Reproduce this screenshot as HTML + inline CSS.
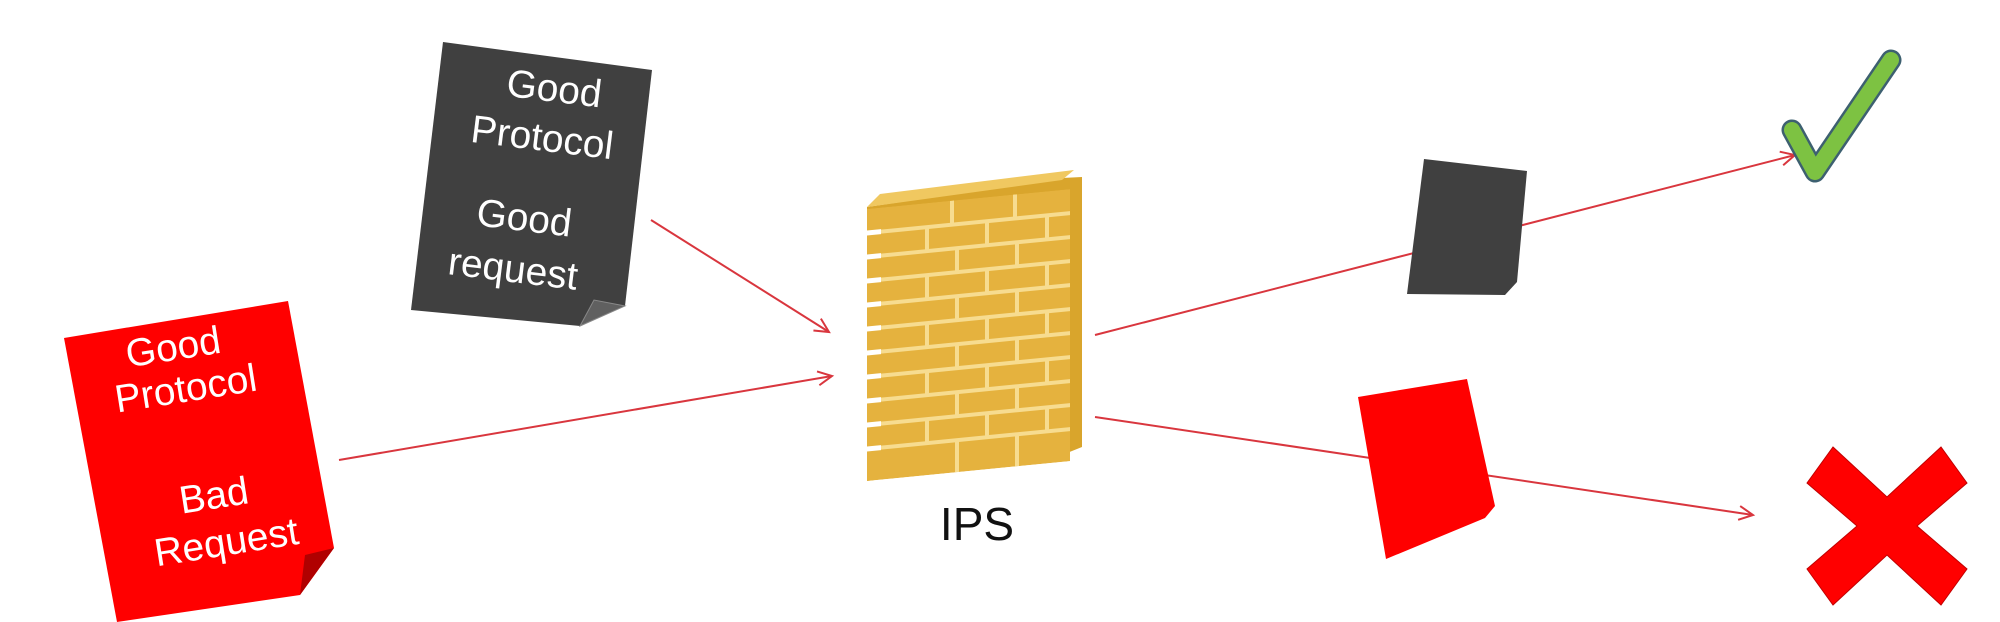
<!DOCTYPE html>
<html><head><meta charset="utf-8"><style>
html,body{margin:0;padding:0;background:#fff;}
svg{display:block}
text{font-family:"Liberation Sans",sans-serif;}
</style></head><body>
<svg width="2000" height="622" viewBox="0 0 2000 622" xmlns="http://www.w3.org/2000/svg">
<defs>
<marker id="ah" markerWidth="20" markerHeight="20" refX="16" refY="8" orient="auto" markerUnits="userSpaceOnUse">
<path d="M2,1 L16,8 L2,15" fill="none" stroke="#d9363e" stroke-width="2"/>
</marker>
<clipPath id="fc"><rect x="0" y="0" width="203" height="272"/></clipPath>
</defs>

<line x1="651" y1="220" x2="829" y2="332" stroke="#d9363e" stroke-width="2" marker-end="url(#ah)"/>
<line x1="339" y1="460" x2="832" y2="376" stroke="#d9363e" stroke-width="2" marker-end="url(#ah)"/>
<line x1="1095" y1="335" x2="1795" y2="155" stroke="#d9363e" stroke-width="2" marker-end="url(#ah)"/>
<line x1="1095" y1="417" x2="1753" y2="515" stroke="#d9363e" stroke-width="2" marker-end="url(#ah)"/>

<polygon points="443,42 652,70 625,306 580,326 411,310" fill="#404040"/>
<polygon points="580,326 625,306 594,300" fill="#606060" stroke="#888" stroke-width="1"/>
<g fill="#fff" font-size="39" text-anchor="middle" transform="rotate(7 535 180)">
<text x="543" y="100">Good</text>
<text x="537" y="150">Protocol</text>
<text x="529" y="232">Good</text>
<text x="524" y="284">request</text>
</g>

<polygon points="64,338 288,301 334,548 300,595 117,622" fill="#ff0000"/>
<polygon points="300,595 334,548 305,555" fill="#b00000"/>
<g fill="#fff" font-size="39" text-anchor="middle" transform="rotate(-9 200 440)">
<text x="188" y="357">Good</text>
<text x="194" y="400">Protocol</text>
<text x="205" y="510">Bad</text>
<text x="210" y="558">Request</text>
</g>

<polygon points="867,207 1062,178 1082,177 1082,447 1062,455 867,481" fill="#d9a52c"/>
<polygon points="867,207 880,194 1074,170 1062,180" fill="#f0c860"/>
<g transform="translate(867,209) skewY(-5.6)">
<g clip-path="url(#fc)">
<rect x="0" y="0" width="203" height="272" fill="#e5b23e"/>
<g stroke="#f7dc90" stroke-width="4">
<line x1="0" y1="24" x2="203" y2="24"/><line x1="0" y1="48" x2="203" y2="48"/>
<line x1="0" y1="72" x2="203" y2="72"/><line x1="0" y1="96" x2="203" y2="96"/>
<line x1="0" y1="120" x2="203" y2="120"/><line x1="0" y1="144" x2="203" y2="144"/>
<line x1="0" y1="168" x2="203" y2="168"/><line x1="0" y1="192" x2="203" y2="192"/>
<line x1="0" y1="216" x2="203" y2="216"/><line x1="0" y1="240" x2="203" y2="240"/>
<line x1="85" y1="0" x2="85" y2="24"/><line x1="148" y1="0" x2="148" y2="24"/>
<line x1="60" y1="24" x2="60" y2="48"/><line x1="120" y1="24" x2="120" y2="48"/><line x1="180" y1="24" x2="180" y2="48"/>
<line x1="90" y1="48" x2="90" y2="72"/><line x1="150" y1="48" x2="150" y2="72"/>
<line x1="60" y1="72" x2="60" y2="96"/><line x1="120" y1="72" x2="120" y2="96"/><line x1="180" y1="72" x2="180" y2="96"/>
<line x1="90" y1="96" x2="90" y2="120"/><line x1="150" y1="96" x2="150" y2="120"/>
<line x1="60" y1="120" x2="60" y2="144"/><line x1="120" y1="120" x2="120" y2="144"/><line x1="180" y1="120" x2="180" y2="144"/>
<line x1="90" y1="144" x2="90" y2="168"/><line x1="150" y1="144" x2="150" y2="168"/>
<line x1="60" y1="168" x2="60" y2="192"/><line x1="120" y1="168" x2="120" y2="192"/><line x1="180" y1="168" x2="180" y2="192"/>
<line x1="90" y1="192" x2="90" y2="216"/><line x1="150" y1="192" x2="150" y2="216"/>
<line x1="60" y1="216" x2="60" y2="240"/><line x1="120" y1="216" x2="120" y2="240"/><line x1="180" y1="216" x2="180" y2="240"/>
<line x1="90" y1="240" x2="90" y2="272"/><line x1="150" y1="240" x2="150" y2="272"/>
</g>
<g stroke="#ffffff" stroke-width="5">
<line x1="0" y1="24" x2="14" y2="24"/><line x1="0" y1="48" x2="14" y2="48"/><line x1="0" y1="72" x2="14" y2="72"/>
<line x1="0" y1="96" x2="14" y2="96"/><line x1="0" y1="120" x2="14" y2="120"/><line x1="0" y1="144" x2="14" y2="144"/>
<line x1="0" y1="168" x2="14" y2="168"/><line x1="0" y1="192" x2="14" y2="192"/><line x1="0" y1="216" x2="14" y2="216"/><line x1="0" y1="240" x2="14" y2="240"/>
</g>
</g>
</g>
<text x="977" y="540" font-size="46" text-anchor="middle" fill="#111">IPS</text>

<polygon points="1424,159 1527,171 1517,282 1505,295 1407,294" fill="#404040"/>
<polygon points="1358,397 1467,379 1495,506 1485,518 1386,559" fill="#ff0000"/>

<path d="M1792,130 L1815,172 L1891,60" fill="none" stroke="#3d6070" stroke-width="21" stroke-linecap="round" stroke-linejoin="round"/>
<path d="M1792,130 L1815,172 L1891,60" fill="none" stroke="#7dc242" stroke-width="16" stroke-linecap="round" stroke-linejoin="round"/>

<polygon points="1833,447 1887,497 1941,447 1967,483 1917,526 1967,569 1941,605 1887,555 1833,605 1807,569 1857,526 1807,483" fill="#ff0000" stroke="#c00000" stroke-width="1"/>
</svg>
</body></html>
